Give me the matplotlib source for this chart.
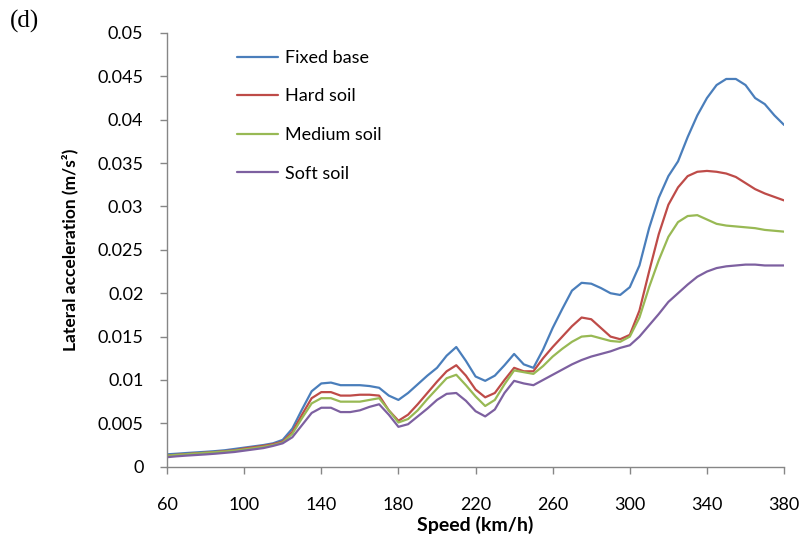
import matplotlib

matplotlib.use("Agg")
import matplotlib.pyplot as plt
from matplotlib.ticker import FuncFormatter, MultipleLocator

# Train speed (km/h) and peak lateral acceleration (m/s^2) for each foundation case.
speed = list(range(60, 381, 5))

fixed_base = [
    0.00143, 0.00150, 0.00158, 0.00165, 0.00172, 0.00180, 0.00190, 0.00205,
    0.00220, 0.00235, 0.00250, 0.00270, 0.00310, 0.00440, 0.00660, 0.00870,
    0.00960, 0.00970, 0.00940, 0.00940, 0.00940, 0.00930, 0.00910, 0.00820,
    0.00770, 0.00850, 0.00950, 0.01050, 0.01140, 0.01280, 0.01380, 0.01220,
    0.01040, 0.00990, 0.01050, 0.01170, 0.01300, 0.01180, 0.01140, 0.01350,
    0.01600, 0.01820, 0.02030, 0.02120, 0.02110, 0.02060, 0.02000, 0.01980,
    0.02070, 0.02320, 0.02750, 0.03100, 0.03350, 0.03520, 0.03800, 0.04050,
    0.04250, 0.04400, 0.04470, 0.04470, 0.04400, 0.04250, 0.04180, 0.04050,
    0.03940,
]
hard_soil = [
    0.00130, 0.00138, 0.00146, 0.00154, 0.00162, 0.00170, 0.00180, 0.00190,
    0.00210, 0.00225, 0.00240, 0.00260, 0.00290, 0.00400, 0.00600, 0.00790,
    0.00860, 0.00860, 0.00820, 0.00820, 0.00830, 0.00830, 0.00820, 0.00650,
    0.00530, 0.00600, 0.00720, 0.00850, 0.00980, 0.01100, 0.01170, 0.01050,
    0.00890, 0.00800, 0.00850, 0.01000, 0.01140, 0.01100, 0.01100, 0.01250,
    0.01380, 0.01500, 0.01620, 0.01720, 0.01700, 0.01600, 0.01500, 0.01470,
    0.01520, 0.01800, 0.02250, 0.02680, 0.03020, 0.03220, 0.03350, 0.03400,
    0.03410, 0.03400, 0.03380, 0.03340, 0.03270, 0.03200, 0.03150, 0.03110,
    0.03070,
]
medium_soil = [
    0.00128, 0.00136, 0.00144, 0.00152, 0.00160, 0.00168, 0.00176, 0.00186,
    0.00200, 0.00215, 0.00230, 0.00250, 0.00280, 0.00380, 0.00560, 0.00730,
    0.00790, 0.00790, 0.00750, 0.00750, 0.00750, 0.00770, 0.00790, 0.00650,
    0.00510, 0.00550, 0.00650, 0.00780, 0.00900, 0.01020, 0.01060, 0.00940,
    0.00810, 0.00700, 0.00770, 0.00950, 0.01110, 0.01090, 0.01070, 0.01160,
    0.01270, 0.01360, 0.01440, 0.01500, 0.01510, 0.01480, 0.01450, 0.01440,
    0.01500, 0.01720, 0.02070, 0.02380, 0.02650, 0.02820, 0.02890, 0.02900,
    0.02850, 0.02800, 0.02780, 0.02770, 0.02760, 0.02750, 0.02730, 0.02720,
    0.02710,
]
soft_soil = [
    0.00110, 0.00120, 0.00128, 0.00135, 0.00142, 0.00150, 0.00160, 0.00170,
    0.00185, 0.00200, 0.00215, 0.00240, 0.00270, 0.00340, 0.00480, 0.00620,
    0.00680, 0.00680, 0.00630, 0.00630, 0.00650, 0.00690, 0.00720, 0.00600,
    0.00460, 0.00490, 0.00580, 0.00670, 0.00770, 0.00840, 0.00850, 0.00760,
    0.00640, 0.00580, 0.00660, 0.00850, 0.00990, 0.00960, 0.00940, 0.01000,
    0.01060, 0.01120, 0.01180, 0.01230, 0.01270, 0.01300, 0.01330, 0.01370,
    0.01400, 0.01500, 0.01630, 0.01760, 0.01900, 0.02000, 0.02100, 0.02190,
    0.02250, 0.02290, 0.02310, 0.02320, 0.02330, 0.02330, 0.02320, 0.02320,
    0.02320,
]

series = [
    ("Fixed base", fixed_base, "#4A7EBB"),
    ("Hard soil", hard_soil, "#BE4B48"),
    ("Medium soil", medium_soil, "#98B954"),
    ("Soft soil", soft_soil, "#7D60A0"),
]

x_ticks = [60, 100, 140, 180, 220, 260, 300, 340, 380]

AXIS_GRAY = "#868686"
FONT = ["Lato", "DejaVu Sans"]

plt.rcParams["font.family"] = FONT

fig = plt.figure(figsize=(8.05, 5.40), dpi=100)
ax = fig.add_axes([0.2075, 0.1357, 0.7665, 0.8032])

for name, values, color in series:
    ax.plot(speed, values, color=color, lw=1.6, label=name,
            solid_joinstyle="round", solid_capstyle="round")

ax.set_xlim(60, 380)
ax.set_ylim(0, 0.05)
ax.set_xticks(x_ticks)
ax.yaxis.set_major_locator(MultipleLocator(0.005))
ax.yaxis.set_major_formatter(FuncFormatter(lambda v, _: f"{v:g}" if v else "0"))

for side in ("top", "right"):
    ax.spines[side].set_visible(False)
for side in ("left", "bottom"):
    ax.spines[side].set_color(AXIS_GRAY)
    ax.spines[side].set_linewidth(1.0)

ax.tick_params(axis="both", direction="out", length=5, width=1.0,
               color=AXIS_GRAY, labelsize=13, labelcolor="black")
ax.tick_params(axis="x", pad=17)
ax.tick_params(axis="y", pad=12)

ax.set_xlabel("Speed (km/h)", fontsize=14, fontweight="bold", labelpad=2)
ax.set_ylabel("Lateral acceleration (m/s\u00b2)", fontsize=12.5,
              fontweight="bold", labelpad=14)

ax.legend(loc="upper left", bbox_to_anchor=(0.113, 0.961), frameon=False,
          fontsize=13, handlelength=2.3, handletextpad=0.35,
          labelspacing=1.25, borderpad=0, borderaxespad=0)

fig.text(0.012, 0.961, "(d)", fontsize=18, family="Liberation Serif",
         ha="left", va="center")

fig.savefig("out.png", dpi=100, facecolor="white")
